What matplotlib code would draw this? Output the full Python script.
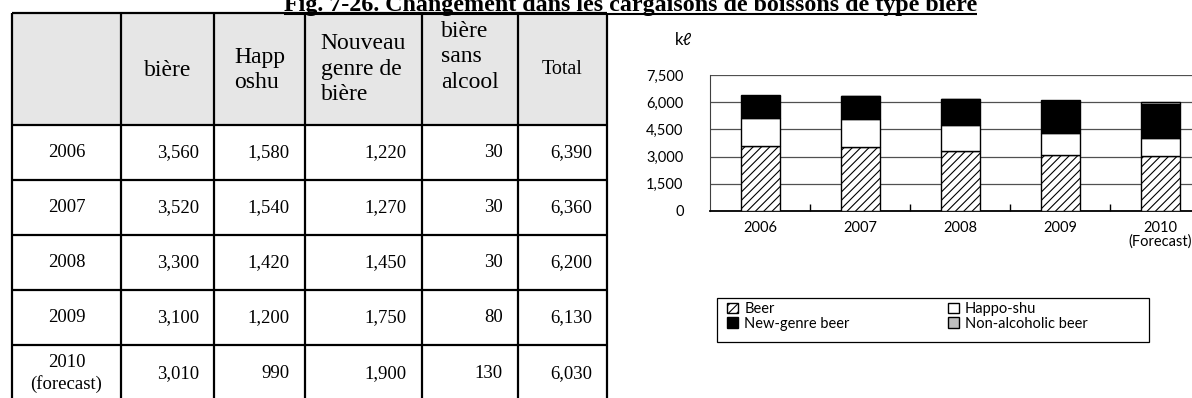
import matplotlib.pyplot as plt
import numpy as np
from matplotlib.patches import Rectangle

years = ["2006", "2007", "2008", "2009", "2010"]
row_labels = ["2006", "2007", "2008", "2009", "2010\n(forecast)"]
x_labels = ["2006", "2007", "2008", "2009", "2010\n(Forecast)"]
beer = [3560, 3520, 3300, 3100, 3010]
happoshu = [1580, 1540, 1420, 1200, 990]
new_genre = [1220, 1270, 1450, 1750, 1900]
non_alcoholic = [30, 30, 30, 80, 130]
total = [6390, 6360, 6200, 6130, 6030]

headers = ["", "bière", "Happ\noshu", "Nouveau\ngenre de\nbière", "bière\nsans\nalcool", "Total"]
y_ticks = [0, 1500, 3000, 4500, 6000, 7500]
title = "Fig. 7-26. Changement dans les cargaisons de boissons de type bière"

W, H = 1192, 398
SERIF = "Liberation Serif"
SANS = "Lato"

fig = plt.figure(figsize=(W / 100, H / 100), dpi=100)

# ---- table, drawn on a pixel-space overlay ----
tab = fig.add_axes([0, 0, 1, 1])
tab.set_xlim(0, W)
tab.set_ylim(H, 0)
tab.axis("off")

col_x = [12, 121, 214, 305, 422, 518, 607]
row_y = [13, 125, 180, 235, 290, 345, 402]

tab.add_patch(Rectangle((col_x[0], row_y[0]), col_x[-1] - col_x[0], row_y[1] - row_y[0],
                        facecolor="#e6e6e6", edgecolor="none"))
tab.hlines(row_y, col_x[0], col_x[-1], color="black", lw=1.6)
tab.vlines(col_x, row_y[0], row_y[-1], color="black", lw=1.6)

header_y = [69, 71, 70, 69, 57, 69]
for j, head in enumerate(headers):
    if not head:
        continue
    size = 14.5 if head == "Total" else 17
    tab.text((col_x[j] + col_x[j + 1]) / 2, header_y[j], head, ha="center", va="center",
             multialignment="left", family=SERIF, fontsize=size, linespacing=1.3)

columns = [beer, happoshu, new_genre, non_alcoholic, total]
for i, lab in enumerate(row_labels):
    yc = (row_y[i + 1] + row_y[i + 2]) / 2
    tab.text((col_x[0] + col_x[1]) / 2, yc, lab, ha="center", va="center",
             family=SERIF, fontsize=13.5, linespacing=1.35)
    for j, vals in enumerate(columns):
        tab.text(col_x[j + 2] - 15, yc, f"{vals[i]:,}", ha="right", va="center",
                 family=SERIF, fontsize=13.5)

# title, cut at the top like the source page
ttl = tab.text(284, 11, title, family=SERIF, fontweight="bold", fontsize=17.3,
               ha="left", va="baseline")

# ---- stacked bar chart ----
ax = fig.add_axes([710 / W, 1 - 211 / H, 500 / W, 136 / H])
x = np.arange(len(years))
series = [
    (beer, "Beer", "white", "////"),
    (happoshu, "Happo-shu", "white", None),
    (new_genre, "New-genre beer", "black", None),
    (non_alcoholic, "Non-alcoholic beer", "#bfbfbf", None),
]
plt.rcParams["hatch.linewidth"] = 0.8
bottom = np.zeros(len(years))
bars = {}
for vals, lab, fc, hatch in series:
    bars[lab] = ax.bar(x, vals, 0.39, bottom=bottom, color=fc, edgecolor="black",
                       lw=1.0, hatch=hatch, label=lab, zorder=3)
    bottom += np.array(vals)

ax.set_xlim(-0.5, 4.5)
ax.set_ylim(0, 7500)
ax.set_yticks(y_ticks)
ax.set_yticklabels([f"{v:,}" for v in y_ticks], family=SANS, fontsize=10.5)
ax.set_xticks(x)
ax.set_xticklabels(x_labels, family=SANS, fontsize=10.5, linespacing=1.0)
ax.set_xticks(x[:-1] + 0.5, minor=True)
ax.tick_params(axis="y", length=0, pad=19)
ax.tick_params(axis="x", which="major", length=0, pad=7)
ax.tick_params(axis="x", which="minor", direction="in", length=5, width=1, color="black")
ax.yaxis.grid(True, color="#505050", lw=0.9)
ax.set_axisbelow(True)
for side in ["top", "right"]:
    ax.spines[side].set_visible(False)
ax.spines["left"].set_color("#404040")
ax.spines["bottom"].set_linewidth(1.3)

tab.text(683, 40, "kℓ", ha="center", va="center", family=[SANS, "DejaVu Sans"], fontsize=12)

# legend: column-major order gives Beer / New-genre | Happo-shu / Non-alcoholic
order = ["Beer", "New-genre beer", "Happo-shu", "Non-alcoholic beer"]
fig.legend([bars[k] for k in order], order, ncol=2, loc="upper left",
           bbox_to_anchor=(727 / W, 1 - 302 / H), frameon=False, prop={"family": SANS, "size": 10.5},
           handlelength=0.75, handleheight=0.75, handletextpad=0.45, labelspacing=0.05,
           columnspacing=6.7, borderpad=0, borderaxespad=0)
tab.add_patch(Rectangle((717, 298), 432, 44, fill=False, edgecolor="black", lw=0.9))

fig.canvas.draw()
bb = ttl.get_window_extent()
tab.hlines(13.5, bb.x0, bb.x1, color="black", lw=1.5)

fig.savefig("out.png", dpi=100)
